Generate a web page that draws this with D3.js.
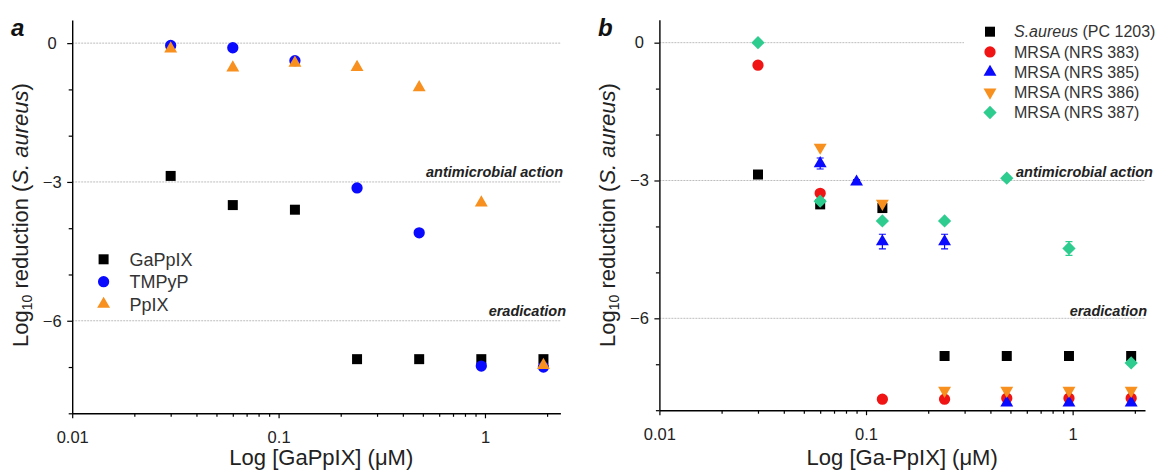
<!DOCTYPE html>
<html>
<head>
<meta charset="utf-8">
<script src="https://cdn.jsdelivr.net/npm/d3@7"></script>
<style>
  body { margin: 0; background: #fff; }
  svg { font-family: "Liberation Sans", Arial, sans-serif; }
</style>
</head>
<body>
<svg id="chart" width="1159" height="474"></svg>
<script>
// ---- data, panel a (GaPpIX vs TMPyP vs PpIX) ----
const concA = [0.03, 0.06, 0.12, 0.24, 0.48, 0.96, 1.92];
const gappixA = [-2.87, -3.5, -3.6, -6.83, -6.83, -6.83, -6.83];
const tmpypA  = [-0.05, -0.1, -0.38, -3.13, -4.1, -6.98, -7.0];
const ppixA   = [-0.12, -0.53, -0.43, -0.52, -0.96, -3.45, -6.96];
const namesA  = ["GaPpIX", "TMPyP", "PpIX"];

// ---- data, panel b (strains) ----
const concB    = [0.03, 0.06, 0.09, 0.12, 0.24, 0.48, 0.96, 1.92];
const saureusB = [-2.87, -3.52, null, -3.6, -6.82, -6.82, -6.82, -6.82];
const nrs383B  = [-0.49, -3.28, null, -7.76, -7.76, -7.74, -7.74, -7.74];
const nrs385B  = [null, -2.63, -3.03, -4.33, -4.33, -7.84, -7.84, -7.84];
const nrs386B  = [null, -2.28, null, -3.5, -7.57, -7.57, -7.57, -7.57];
const nrs387B  = [0, -3.45, null, -3.88, -3.88, -2.95, -4.48, -6.97];
const err385B  = [0, 0.12, 0.05, 0.16, 0.16, 0, 0, 0];
const err387B  = [0, 0.05, 0, 0.05, 0.05, 0.05, 0.15, 0.05];
const namesB   = ["S.aureus", "MRSA (NRS 383)", "MRSA (NRS 385)", "MRSA (NRS 386)", "MRSA (NRS 387)"];

const yMajor = [-6, -3, 0];
const yMinor = [-8, -7, -5, -4, -2, -1];
const xMajor = [0.01, 0.1, 1];
const xMinor = [0.02, 0.03, 0.04, 0.05, 0.06, 0.07, 0.08, 0.09, 0.2, 0.3, 0.4, 0.5, 0.6, 0.7, 0.8, 0.9, 2];

const svg = d3.select("#chart");

const sq = d3.symbol().type(d3.symbolSquare).size(100);
const circ = d3.symbol().type(d3.symbolCircle).size(100);
const tri = d3.symbol().type(d3.symbolTriangle).size(72);
const dia = d3.symbol().type(d3.symbolSquare).size(88);

// marker styles: path + rotation
const styles = {
  square:  {path: sq(),   rot: 0,   color: "#000000"},
  circleB: {path: circ(), rot: 0,   color: "#0a0aff"},
  triO:    {path: tri(),  rot: 0,   color: "#f7901e"},
  circleR: {path: circ(), rot: 0,   color: "#f01414"},
  triB:    {path: tri(),  rot: 0,   color: "#0a0aff"},
  triDown: {path: tri(),  rot: 180, color: "#f7901e"},
  diamond: {path: dia(),  rot: 45,  color: "#2ecc8e"}
};

function drawPanel(p) {
  const g = svg.append("g");
  const x = d3.scaleLog().domain([0.01, p.xmax]).range([p.left, p.right]);
  const y = d3.scaleLinear().domain([-8, 0.5]).range([p.bottom, p.top]);

  // reference lines
  p.refs.forEach(r => {
    g.append("line")
      .attr("x1", p.left).attr("x2", r.x2 || p.right)
      .attr("y1", y(r.v)).attr("y2", y(r.v))
      .attr("stroke", "#bdbdbd").attr("stroke-width", 1)
      .attr("stroke-dasharray", "2,1");
  });

  // axes
  const xa = g.append("g").attr("transform", `translate(0,${p.bottom})`)
    .call(d3.axisBottom(x).tickValues(xMajor).tickFormat(d3.format("~g"))
      .tickSize(5).tickSizeOuter(0).tickPadding(13));
  g.append("g").attr("transform", `translate(0,${p.bottom})`)
    .call(d3.axisBottom(x).tickValues(xMinor.filter(v => v <= p.xmax)).tickFormat("")
      .tickSize(3.5).tickSizeOuter(0))
    .select(".domain").remove();
  const ya = g.append("g").attr("transform", `translate(${p.left},0)`)
    .call(d3.axisLeft(y).tickValues(yMajor).tickFormat(d3.format("d"))
      .tickSize(5).tickSizeOuter(0));
  // origin-style: y tick labels centred
  ya.selectAll("text").attr("text-anchor", "middle").attr("x", -20);
  g.append("g").attr("transform", `translate(${p.left},0)`)
    .call(d3.axisLeft(y).tickValues(yMinor).tickFormat("").tickSize(3.5).tickSizeOuter(0))
    .select(".domain").remove();

  g.selectAll(".domain").attr("stroke-width", 1.4);
  g.selectAll(".tick line").attr("stroke-width", 1.2);
  [xa, ya].forEach(a => a.selectAll("text")
    .attr("font-family", "Liberation Sans, Arial, sans-serif")
    .attr("font-size", 16.5).attr("fill", "#222"));

  // error bars
  p.series.forEach(s => {
    if (!s.err) return;
    s.vals.forEach((v, i) => {
      if (v === null || !s.err[i]) return;
      const cx = x(s.conc[i]);
      const y1 = y(v + s.err[i]), y2 = y(v - s.err[i]);
      g.append("path")
        .attr("d", `M${cx},${y1}V${y2}M${cx - 3.5},${y1}H${cx + 3.5}M${cx - 3.5},${y2}H${cx + 3.5}`)
        .attr("stroke", styles[s.style].color).attr("stroke-width", 1.2).attr("fill", "none");
    });
  });

  // markers
  p.series.forEach(s => {
    const st = styles[s.style];
    g.append("g").selectAll("path")
      .data(s.vals.map((v, i) => ({c: s.conc[i], v})).filter(d => d.v !== null))
      .join("path")
      .attr("d", st.path)
      .attr("transform", d => `translate(${x(d.c)},${y(d.v)}) rotate(${st.rot})`)
      .attr("fill", st.color);
  });

  // legend
  p.series.forEach((s, i) => {
    const st = styles[s.style];
    const ly = p.leg.y + i * p.leg.dy;
    g.append("path").attr("d", st.path)
      .attr("transform", `translate(${p.leg.x},${ly}) rotate(${st.rot})`)
      .attr("fill", st.color);
    const t = g.append("text").attr("x", p.leg.x + p.leg.gap).attr("y", ly).attr("dy", "0.36em")
      .attr("font-size", p.leg.fs).attr("fill", "#333");
    if (s.name === "S.aureus") {
      t.append("tspan").attr("font-style", "italic").text("S.aureus");
      t.append("tspan").text(" (PC 1203)");
    } else t.text(s.name);
  });

  // threshold labels
  p.notes.forEach(n => {
    g.append("text").attr("x", n.x).attr("y", n.y).attr("text-anchor", n.anchor)
      .attr("font-size", 14.5).attr("font-weight", "bold").attr("font-style", "italic")
      .attr("fill", "#222").text(n.text);
  });

  // axis titles
  g.append("text").attr("x", (p.left + p.right) / 2 + p.xtOff).attr("y", 465)
    .attr("text-anchor", "middle").attr("font-size", 22).attr("fill", "#222").text(p.xtitle);
  const yt = g.append("text")
    .attr("transform", `translate(${p.ytx},${p.yty}) rotate(-90)`)
    .attr("text-anchor", "middle").attr("font-size", 22).attr("fill", "#222");
  yt.append("tspan").text("Log");
  yt.append("tspan").attr("font-size", 14).attr("dy", 4).text("10");
  yt.append("tspan").attr("dy", -4).text(" reduction (");
  yt.append("tspan").attr("font-style", "italic").text("S. aureus");
  yt.append("tspan").text(")");

  // panel letter
  g.append("text").attr("x", p.letterX).attr("y", 36)
    .attr("font-size", 24).attr("font-weight", "bold").attr("font-style", "italic")
    .attr("fill", "#111").text(p.letter);
}

drawPanel({
  left: 72.2, right: 560.4, xmax: 2.32, top: 20, bottom: 413.3,
  refs: [{v: 0}, {v: -3}, {v: -6}],
  series: [
    {name: namesA[0], conc: concA, vals: gappixA, style: "square"},
    {name: namesA[1], conc: concA, vals: tmpypA, style: "circleB"},
    {name: namesA[2], conc: concA, vals: ppixA, style: "triO"}
  ],
  leg: {x: 103.6, y: 259.3, dy: 22.4, gap: 26, fs: 18},
  notes: [
    {text: "antimicrobial action", x: 563, y: 177, anchor: "end"},
    {text: "eradication", x: 566, y: 316, anchor: "end"}
  ],
  xtitle: "Log [GaPpIX] (\u03bcM)", xtOff: 5, ytx: 28, yty: 215,
  letter: "a", letterX: 11
});

drawPanel({
  left: 659.4, right: 1145, xmax: 2.24, top: 19.7, bottom: 410.2,
  refs: [{v: 0, x2: 964}, {v: -3}, {v: -6}],
  series: [
    {name: namesB[0], conc: concB, vals: saureusB, style: "square"},
    {name: namesB[1], conc: concB, vals: nrs383B, style: "circleR"},
    {name: namesB[2], conc: concB, vals: nrs385B, style: "triB", err: err385B},
    {name: namesB[3], conc: concB, vals: nrs386B, style: "triDown"},
    {name: namesB[4], conc: concB, vals: nrs387B, style: "diamond", err: err387B}
  ],
  leg: {x: 990, y: 31.7, dy: 20.2, gap: 24, fs: 16},
  notes: [
    {text: "antimicrobial action", x: 1016, y: 177, anchor: "start"},
    {text: "eradication", x: 1147, y: 316, anchor: "end"}
  ],
  xtitle: "Log [Ga-PpIX] (\u03bcM)", xtOff: 0, ytx: 615, yty: 215,
  letter: "b", letterX: 598
});
</script>
</body>
</html>
